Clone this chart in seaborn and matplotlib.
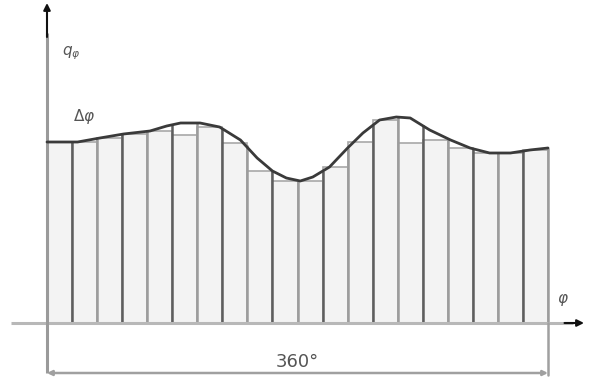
import numpy as np
import pandas as pd
import matplotlib
matplotlib.use("Agg")
import matplotlib.pyplot as plt
import seaborn as sns

# Smooth load curve q(phi) over one revolution (degrees)
curve_phi = [0, 22, 38, 55, 74, 86, 96, 110, 124, 139, 151, 162, 172, 182,
             191, 203, 216, 227, 239, 251, 261, 275, 290, 304, 318, 333, 347, 360]
curve_q = [181, 181, 185, 189, 192, 197, 200, 200, 196, 183, 165, 152, 145, 142,
           146, 156, 175, 190, 203, 206, 205, 193, 183, 175, 170, 170, 173, 175]

# Stepped approximation: 20 sectors of 18 degrees each
step_deg = 18
sector_q = [181, 181, 185, 189, 192, 188, 196, 180, 152, 142,
            142, 156, 181, 203, 180, 183, 175, 170, 170, 173]
sector_mid = [step_deg * (i + 0.5) for i in range(len(sector_q))]

# Ordinates of the sector boundaries, drawn up to the curve
edge_q = [181, 181, 184, 189, 192, 198, 200, 195, 178, 152, 142,
          152, 175, 198, 206, 198, 184, 175, 170, 172, 175]
edge_phi = [step_deg * i for i in range(len(edge_q))]

full_turn = 360
y_label = r"$q_{\varphi}$"
x_label = r"$\varphi$"
step_label = r"$\Delta\varphi$"
turn_label = "360°"

sns.set_theme(style="white")
plt.rcParams["font.family"] = ["DejaVu Sans"]

fig = plt.figure(figsize=(5.92, 3.80), dpi=100)
ax = fig.add_axes([0, 0, 1, 1])

px_per_deg = 501 / full_turn
ax.set_xlim(-47 / px_per_deg, full_turn + 44 / px_per_deg)
ax.set_ylim(-57, 323)
ax.set_axis_off()

bars = pd.DataFrame({"phi": sector_mid, "q": sector_q})
sns.barplot(data=bars, x="phi", y="q", native_scale=True, width=1.0,
            color="#f3f3f3", saturation=1, edgecolor="#a8a8a8",
            linewidth=1.2, ax=ax, zorder=2)

# Sector boundaries: alternating dark and light ordinates
for i, (p, q) in enumerate(zip(edge_phi, edge_q)):
    if i == 0:
        continue
    shade = "#5e5e5e" if i % 2 == 1 else "#9c9c9c"
    ax.vlines(p, 0, q, color=shade, lw=1.8, zorder=3)

curve = pd.DataFrame({"phi": curve_phi, "q": curve_q})
sns.lineplot(data=curve, x="phi", y="q", color="#3a3a3a", linewidth=2.0,
             ax=ax, zorder=4)

ax.set_xlabel("")
ax.set_ylabel("")

# Coordinate axes with arrowheads
x_left = -36 / px_per_deg
x_right = full_turn + 36 / px_per_deg
ax.plot([x_left, x_right - 8], [0, 0], color="#b8b8b8", lw=2.2, zorder=3,
        solid_capstyle="butt")
ax.annotate("", xy=(x_right, 0), xytext=(x_right - 14, 0),
            arrowprops=dict(arrowstyle="-|>", color="#111111", lw=1.5,
                            mutation_scale=10, shrinkA=0, shrinkB=0), zorder=5)
ax.plot([0, 0], [-50, 290], color="#9a9a9a", lw=2.2, zorder=3,
        solid_capstyle="butt")
ax.annotate("", xy=(0, 320), xytext=(0, 286),
            arrowprops=dict(arrowstyle="-|>", color="#111111", lw=1.5,
                            mutation_scale=10, shrinkA=0, shrinkB=0), zorder=5)

ax.text(11, 270, y_label, fontsize=11, color="#555555", ha="left", va="center")
ax.text(full_turn + 11, 23, x_label, fontsize=11, color="#555555",
        ha="center", va="center")
ax.text(sector_mid[1], 206, step_label, fontsize=11, color="#555555",
        ha="center", va="center")

# Dimension line spanning one full revolution
ax.plot([full_turn, full_turn], [0, -52], color="#a0a0a0", lw=1.8, zorder=3)
ax.annotate("", xy=(0, -50), xytext=(full_turn, -50),
            arrowprops=dict(arrowstyle="<|-|>", color="#a0a0a0", lw=1.8,
                            mutation_scale=7, shrinkA=0, shrinkB=0), zorder=3)
ax.text(full_turn / 2, -39, turn_label, fontsize=13, color="#555555",
        ha="center", va="center")

fig.savefig("out.png", dpi=100, facecolor="white")
